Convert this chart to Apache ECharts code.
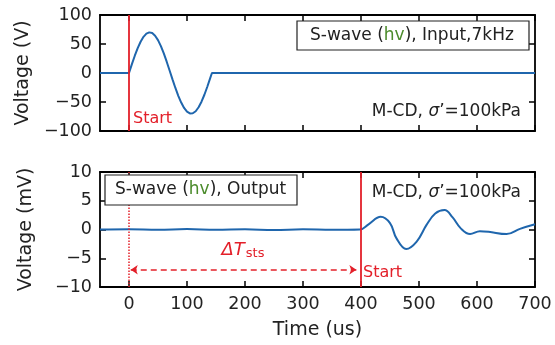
<!DOCTYPE html>
<html><head><meta charset="utf-8">
<script src="https://cdn.jsdelivr.net/npm/echarts@6/dist/echarts.min.js"></script>
<style>html,body{margin:0;padding:0;background:#fff}#c{width:555px;height:345px}</style>
</head><body><div id="c"></div>
<script>
// ---- data ----
const xTicks = [0, 100, 200, 300, 400, 500, 600, 700];
const yTicksTop = [-100, -50, 0, 50, 100];
const yTicksBottom = [-10, -5, 0, 5, 10];
const inputTime = [-50, 0, 5, 10, 15, 20, 25, 30, 35, 40, 45, 50, 55, 60, 65, 70, 75, 80, 85, 90, 95, 100, 105, 110, 115, 120, 125, 130, 135, 140, 143, 700];
const inputVolt = [0, 0, 15.3, 29.8, 42.9, 53.9, 62.4, 67.8, 70.0, 68.8, 64.2, 56.6, 46.3, 33.7, 19.5, 4.4, -10.9, -25.8, -39.3, -51.0, -60.2, -66.6, -69.7, -69.4, -65.9, -59.1, -49.5, -37.5, -23.7, -8.8, 0, 0];
const outputTime = [-50, 0, 50, 100, 150, 200, 250, 300, 350, 398, 413, 434, 450, 461, 478, 496, 513, 528, 544, 558, 572, 588, 605, 620, 651, 674, 700];
const outputVolt = [0, 0.05, -0.05, 0.08, -0.05, 0.05, -0.1, 0.05, -0.05, 0, 0.9, 2.2, 1.1, -1.5, -3.4, -2.1, 0.8, 2.8, 3.4, 2.1, 0.2, -0.8, -0.3, -0.4, -0.8, 0.1, 0.9];
const startTimeInput = 0;
const startTimeOutput = 400;
const arrowY = -7;
const arrowFrom = 3, arrowTo = 392;

const FONT = 'DejaVu Sans';
const RED = '#e3202a';
const BLUE = '#1f66ad';
const GREEN = '#4b8b2b';
const minus = v => String(v).replace('-', '\u2212');

function xAx(gridIndex, pos, labels, name) {
  return {
    type: 'value', gridIndex, position: pos, min: -50, max: 700,
    axisLine: { show: true, onZero: false, lineStyle: { color: '#000', width: 1.8 } },
    axisTick: { show: true, inside: true, length: 6, customValues: xTicks, lineStyle: { color: '#000', width: 1.5 } },
    axisLabel: { show: labels, customValues: xTicks, color: '#222', fontFamily: FONT, fontSize: 17.5, margin: 8 },
    splitLine: { show: false },
    name: name || '', nameLocation: 'middle', nameGap: 34,
    nameTextStyle: { color: '#222', fontFamily: FONT, fontSize: 19 }
  };
}
function yAx(gridIndex, pos, ticks, labels, name) {
  return {
    type: 'value', gridIndex, position: pos, min: ticks[0], max: ticks[ticks.length - 1],
    interval: ticks[1] - ticks[0],
    axisLine: { show: true, onZero: false, lineStyle: { color: '#000', width: 1.8 } },
    axisTick: { show: true, inside: true, length: 6, lineStyle: { color: '#000', width: 1.5 } },
    axisLabel: { show: labels, color: '#222', fontFamily: FONT, fontSize: 17.5, margin: 8, formatter: minus },
    splitLine: { show: false },
    name: name || '', nameLocation: 'middle', nameGap: 64, nameRotate: 90,
    nameTextStyle: { color: '#222', fontFamily: FONT, fontSize: 19 }
  };
}

const chart = echarts.init(document.getElementById('c'), null, { renderer: 'canvas' });
chart.setOption({
  animation: false,
  backgroundColor: '#fff',
  grid: [
    { left: 100, right: 20, top: 15, height: 116 },
    { left: 100, right: 20, top: 172, height: 115 }
  ],
  xAxis: [
    xAx(0, 'bottom', false), xAx(0, 'top', false),
    xAx(1, 'bottom', true, 'Time (us)'), xAx(1, 'top', false)
  ],
  yAxis: [
    yAx(0, 'left', yTicksTop, true, 'Voltage (V)'), yAx(0, 'right', yTicksTop, false),
    yAx(1, 'left', yTicksBottom, true, 'Voltage (mV)'), yAx(1, 'right', yTicksBottom, false)
  ],
  series: [
    {
      type: 'line', xAxisIndex: 0, yAxisIndex: 0, smooth: false, symbol: 'none',
      lineStyle: { color: BLUE, width: 2 },
      data: inputTime.map((t, i) => [t, inputVolt[i]]),
      markLine: {
        silent: true, symbol: 'none', label: { show: false },
        lineStyle: { color: RED, width: 1.8, type: 'solid' },
        data: [{ xAxis: startTimeInput }]
      },
      z: 3
    },
    {
      type: 'line', xAxisIndex: 2, yAxisIndex: 2, smooth: 0.4, symbol: 'none',
      lineStyle: { color: BLUE, width: 2 },
      data: outputTime.map((t, i) => [t, outputVolt[i]]),
      markLine: {
        silent: true, symbol: 'none', label: { show: false },
        data: [
          { xAxis: startTimeOutput, lineStyle: { color: RED, width: 1.8, type: 'solid' } },
          { xAxis: startTimeInput, lineStyle: { color: RED, width: 1.5, type: 'dotted' } },
          [
            { coord: [arrowFrom, arrowY], symbol: 'arrow', symbolSize: 7 },
            { coord: [arrowTo, arrowY], symbol: 'arrow', symbolSize: 7, lineStyle: { color: RED, width: 1.5, type: [6, 4] } }
          ]
        ]
      },
      z: 3
    }
  ],
  graphic: [
    { type: 'rect', shape: { x: 297, y: 21, width: 232, height: 29 }, style: { fill: '#fff', stroke: '#222', lineWidth: 1.2 }, z: 10 },
    { type: 'text', x: 310, y: 36, z: 11, style: {
      text: '{n|S-wave (}{g|hv}{n|), Input,7kHz}', verticalAlign: 'middle', align: 'left',
      rich: { n: { fill: '#222', fontFamily: FONT, fontSize: 17 }, g: { fill: GREEN, fontFamily: FONT, fontSize: 17 } } } },
    { type: 'text', x: 521, y: 112, z: 11, style: {
      text: '{n|M-CD, }{i|σ}{n|’=100kPa}', verticalAlign: 'middle', align: 'right',
      rich: { n: { fill: '#222', fontFamily: FONT, fontSize: 17 }, i: { fill: '#222', fontFamily: FONT, fontSize: 17, fontStyle: 'italic' } } } },
    { type: 'text', x: 133, y: 119, z: 11, style: { text: 'Start', fill: RED, fontFamily: FONT, fontSize: 16, verticalAlign: 'middle' } },

    { type: 'rect', shape: { x: 105, y: 175, width: 192, height: 30 }, style: { fill: '#fff', stroke: '#222', lineWidth: 1.2 }, z: 10 },
    { type: 'text', x: 115, y: 190, z: 11, style: {
      text: '{n|S-wave (}{g|hv}{n|), Output}', verticalAlign: 'middle', align: 'left',
      rich: { n: { fill: '#222', fontFamily: FONT, fontSize: 17 }, g: { fill: GREEN, fontFamily: FONT, fontSize: 17 } } } },
    { type: 'text', x: 521, y: 193, z: 11, style: {
      text: '{n|M-CD, }{i|σ}{n|’=100kPa}', verticalAlign: 'middle', align: 'right',
      rich: { n: { fill: '#222', fontFamily: FONT, fontSize: 17 }, i: { fill: '#222', fontFamily: FONT, fontSize: 17, fontStyle: 'italic' } } } },
    { type: 'text', x: 363, y: 273, z: 11, style: { text: 'Start', fill: RED, fontFamily: FONT, fontSize: 16, verticalAlign: 'middle' } },
    { type: 'text', x: 243, y: 250, z: 11, style: {
      text: '{a|ΔT}{b|sts}', align: 'center', verticalAlign: 'middle',
      rich: { a: { fill: RED, fontFamily: FONT, fontSize: 18, fontStyle: 'italic' }, b: { fill: RED, fontFamily: FONT, fontSize: 13, padding: [8, 0, 0, 1] } } } }
  ]
});
</script></body></html>
